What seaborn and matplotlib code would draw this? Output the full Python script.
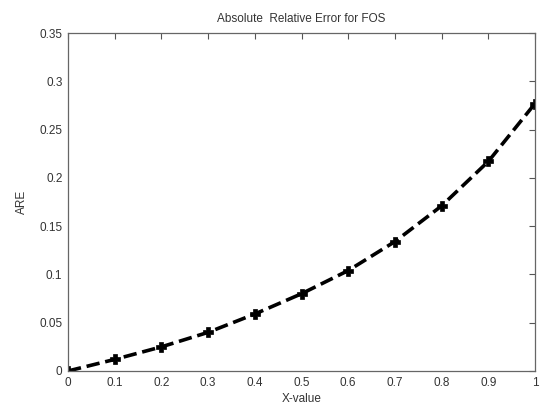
import matplotlib
matplotlib.use("Agg")
import matplotlib.pyplot as plt
import seaborn as sns
import pandas as pd

# x positions and absolute relative error values
x_values = [0.0, 0.1, 0.2, 0.3, 0.4, 0.5, 0.6, 0.7, 0.8, 0.9, 1.0]
are_values = [0.0, 0.012, 0.025, 0.040, 0.059, 0.080, 0.104, 0.134, 0.171, 0.217, 0.277]

x_ticks = [0.0, 0.1, 0.2, 0.3, 0.4, 0.5, 0.6, 0.7, 0.8, 0.9, 1.0]
x_tick_labels = ["0", "0.1", "0.2", "0.3", "0.4", "0.5", "0.6", "0.7", "0.8", "0.9", "1"]
y_ticks = [0.0, 0.05, 0.1, 0.15, 0.2, 0.25, 0.3, 0.35]
y_tick_labels = ["0", "0.05", "0.1", "0.15", "0.2", "0.25", "0.3", "0.35"]

sns.set_style("white")
plt.rcParams["font.family"] = ["Liberation Sans", "DejaVu Sans"]

df = pd.DataFrame({"x": x_values, "ARE": are_values})

fig = plt.figure(figsize=(5.44, 4.08), dpi=100)
ax = fig.add_axes([0.125, 0.0907, 0.8585, 0.8284])

sns.lineplot(data=df, x="x", y="ARE", ax=ax, color="black", linestyle="--",
             linewidth=2.6, marker="P", markersize=6.5, markeredgewidth=0.5,
             markeredgecolor="black", dashes=(2.2, 1.2))

ax.set_xlim(0, 1)
ax.set_ylim(0, 0.35)
ax.set_xticks(x_ticks)
ax.set_xticklabels(x_tick_labels)
ax.set_yticks(y_ticks)
ax.set_yticklabels(y_tick_labels)

text_color = "#333333"
ax.tick_params(direction="in", length=4, width=0.8, colors="#555555",
               labelcolor=text_color, labelsize=8.5, top=True, right=True,
               pad=4)
for side in ax.spines.values():
    side.set_visible(True)
    side.set_color("#666666")
    side.set_linewidth(0.9)

ax.set_title("Absolute  Relative Error for FOS", fontsize=8.5, color=text_color, pad=8)
ax.set_xlabel("X-value", fontsize=8.5, color=text_color, labelpad=3)
ax.set_ylabel("ARE", fontsize=8.5, color=text_color, labelpad=8)

fig.savefig("out.png", dpi=100, facecolor="white")
